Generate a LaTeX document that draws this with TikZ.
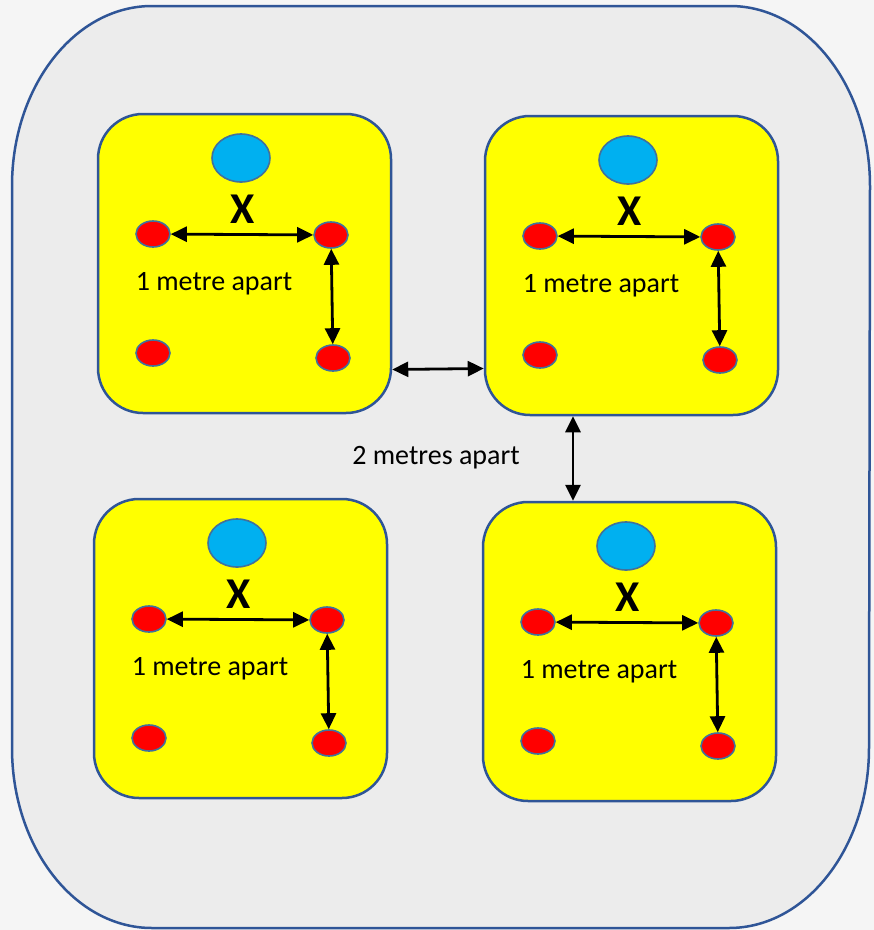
\documentclass[tikz,border=0pt]{standalone}
\usepackage{fontspec}
\setmainfont{Carlito}
\usetikzlibrary{arrows.meta,shapes.geometric}
\definecolor{rimblue}{RGB}{47, 85, 151}
\definecolor{dotrim}{RGB}{65, 113, 156}
\definecolor{roomgray}{RGB}{236, 236, 236}
\definecolor{pagegray}{RGB}{245, 245, 245}
\definecolor{headblue}{RGB}{0, 176, 240}
\definecolor{podyellow}{RGB}{255, 255, 0}
\definecolor{seatred}{RGB}{255, 0, 0}

% one group of four seats with its leader
\newcommand{\pod}[3]{%
	\begin{scope}[shift={(#2,#3)}]
		\node[podbox] (#1) at (146.5,149.5) {};
		\node[headdot] (#1h) at (143,44) {};
		\node[letter] (#1x) at (145,95) {X};
		\node[seatdot] (#1a) at (55,120) {};
		\node[seatdot] (#1b) at (233,121) {};
		\node[seatdot] (#1c) at (55,239) {};
		\node[seatdot] (#1d) at (235,244) {};
		\draw[twoway] (#1a) -- (#1b);
		\draw[twoway] (#1b) -- (#1d);
		\node[gap] (#1t) at (116,170) {1 metre apart};
	\end{scope}}

\begin{document}
\begin{tikzpicture}[x=1pt, y=-1pt,
	podbox/.style = {draw=rimblue, line width=2.5pt, fill=podyellow, rounded corners=45pt,
		minimum width=293pt, minimum height=299pt, inner sep=0pt},
	headdot/.style = {ellipse, draw=dotrim, line width=1.6pt, fill=headblue,
		minimum width=58pt, minimum height=48pt, inner sep=0pt},
	seatdot/.style = {ellipse, draw=dotrim, line width=1.6pt, fill=seatred,
		minimum width=34pt, minimum height=26pt, inner sep=0pt},
	letter/.style = {font=\fontsize{44}{48}\selectfont\bfseries, inner sep=0pt},
	gap/.style = {font=\fontsize{28}{32}\selectfont, inner sep=0pt},
	twoway/.style = {line width=2.8pt, {Triangle[length=16pt,width=15pt]}-{Triangle[length=16pt,width=15pt]}}]
	\useasboundingbox[fill=pagegray] (0,0) rectangle (874,930);
	\draw[draw=rimblue, line width=2.5pt, fill=roomgray] (152,6) -- (730,6)
		arc[start angle=270, end angle=360, x radius=140, y radius=180] -- (869,748)
		arc[start angle=0, end angle=90, x radius=140, y radius=180] -- (152,928)
		arc[start angle=90, end angle=180, x radius=140, y radius=180] -- (12,186)
		arc[start angle=180, end angle=270, x radius=140, y radius=180] -- cycle;
	\pod{tl}{98}{114}
	\pod{tr}{485}{116}
	\pod{bl}{94}{499}
	\pod{br}{483}{502}
	\draw[twoway] ([yshift=-106pt]tl.east) -- ([yshift=-103pt]tr.west);
	\draw[twoway] ([xshift=-58.5pt]tr.south) -- ([xshift=-56.5pt]br.north);
	\node[gap] (apart) at (436,458) {2 metres apart};
\end{tikzpicture}
\end{document}
